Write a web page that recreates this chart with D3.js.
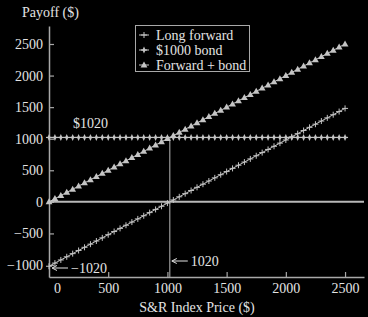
<!DOCTYPE html>
<html>
<head>
<meta charset="utf-8">
<script src="https://cdn.jsdelivr.net/npm/d3@7"></script>
<style>
  body { margin: 0; background: #000; }
  text { font-family: "Liberation Serif", "DejaVu Serif", serif; }
</style>
</head>
<body>
<div id="chart"></div>
<script>
// data: payoff at expiration, index price every $50
const prices = d3.range(0, 2501, 50);
const forwardPrice = 1020;
const bondPayoff = 1020;
const longForward = prices.map(p => p - forwardPrice);
const bond = prices.map(() => bondPayoff);
const forwardPlusBond = prices.map((p, i) => longForward[i] + bond[i]);
const xTicks = [0, 500, 1000, 1500, 2000, 2500];
const yTicks = [-1000, -500, 0, 500, 1000, 1500, 2000, 2500];
const seriesNames = ["Long forward", "$1000 bond", "Forward + bond"];

const width = 368, height = 317;
const fg = "#e4e4e4", mark = "#c4c4c4", axisCol = "#a8a8a8";

const svg = d3.select("#chart")
  .append("svg")
    .attr("width", width)
    .attr("height", height)
    .style("background", "#000");

// scales
const x = d3.scaleLinear().domain([0, 2660]).range([49, 364]);
const y = d3.scaleLinear().domain([-1190, 2785]).range([277, 26]);
const fmt = d3.format("d");

// x axis (ticks pointing up)
const xAxis = svg.append("g")
  .attr("transform", `translate(0, ${y.range()[0]})`)
  .call(d3.axisBottom(x).tickValues(xTicks).tickFormat(fmt).tickSizeInner(-5).tickSizeOuter(0).tickPadding(6));
xAxis.selectAll("text").filter(d => d === 0).attr("dx", 8);

// y axis (ticks pointing right)
const yAxis = svg.append("g")
  .attr("transform", `translate(${x.range()[0]}, 0)`)
  .call(d3.axisLeft(y).tickValues(yTicks).tickFormat(fmt).tickSizeInner(-5).tickSizeOuter(0).tickPadding(6));

[xAxis, yAxis].forEach(a => {
  a.select(".domain").attr("stroke", axisCol).attr("stroke-width", 1.5);
  a.selectAll(".tick line").attr("stroke", axisCol).attr("stroke-width", 1.2);
  a.selectAll("text").attr("fill", fg).style("font-size", "14px")
    .attr("font-family", "Liberation Serif, serif");
});
xAxis.selectAll(".tick line").filter(d => d === 0).remove();

// zero line
svg.append("line")
  .attr("x1", x(0)).attr("x2", x.range()[1])
  .attr("y1", y(0)).attr("y2", y(0))
  .attr("stroke", "#b8b8b8").attr("stroke-width", 2);

// vertical line at forward price
svg.append("line")
  .attr("x1", x(forwardPrice)).attr("x2", x(forwardPrice))
  .attr("y1", y(bondPayoff)).attr("y2", y.range()[0])
  .attr("stroke", "#9a9a9a").attr("stroke-width", 1.2);

const line = d3.line().x(d => x(d[0])).y(d => y(d[1]));

function drawSeries(vals, symbolFn) {
  const pts = prices.map((p, i) => [p, vals[i]]);
  svg.append("path")
    .datum(pts)
    .attr("d", line)
    .attr("fill", "none")
    .attr("stroke", mark)
    .attr("stroke-width", 1);
  const g = svg.append("g");
  pts.forEach(d => symbolFn(g, x(d[0]), y(d[1])));
}

function plusMark(g, cx, cy) {
  g.append("path")
    .attr("d", `M${cx - 3},${cy}H${cx + 3}M${cx},${cy - 3}V${cy + 3}`)
    .attr("stroke", mark).attr("stroke-width", 1);
}
function starMark(g, cx, cy) {
  g.append("path")
    .attr("d", `M${cx},${cy - 3.5}L${cx + 1.6},${cy}L${cx},${cy + 3.5}L${cx - 1.6},${cy}Z`)
    .attr("fill", mark);
  g.append("path")
    .attr("d", `M${cx - 3},${cy}H${cx + 3}`)
    .attr("stroke", mark).attr("stroke-width", 1.2);
}
function triMark(g, cx, cy) {
  g.append("path")
    .attr("d", `M${cx},${cy - 3.6}L${cx + 3.4},${cy + 2.4}L${cx - 3.4},${cy + 2.4}Z`)
    .attr("fill", mark);
}

drawSeries(bond, starMark);
drawSeries(longForward, plusMark);
drawSeries(forwardPlusBond, triMark);

// annotations
svg.append("text").attr("x", 73).attr("y", 128).text("$1020")
  .attr("fill", fg).style("font-size", "14px");

function arrowLabel(x0, yv, label) {
  svg.append("line")
    .attr("x1", x0 + 3).attr("x2", x0 + 18)
    .attr("y1", yv).attr("y2", yv)
    .attr("stroke", fg).attr("stroke-width", 1);
  svg.append("path")
    .attr("d", `M${x0 + 7},${yv - 2.5}L${x0 + 2},${yv}L${x0 + 7},${yv + 2.5}`)
    .attr("fill", "none").attr("stroke", fg).attr("stroke-width", 1);
  svg.append("text").attr("x", x0 + 21).attr("y", yv + 4.5).text(label)
    .attr("fill", fg).style("font-size", "14px");
}
arrowLabel(x(forwardPrice), 261, "1020");
arrowLabel(x(0) + 1, 268, "\u22121020");

// axis titles
svg.append("text").attr("x", 22).attr("y", 17).text("Payoff ($)")
  .attr("fill", fg).style("font-size", "14px");
svg.append("text").attr("x", 197).attr("y", 312).attr("text-anchor", "middle")
  .text("S&R Index Price ($)")
  .attr("fill", fg).style("font-size", "14px");

// legend
const legend = svg.append("g");
legend.append("rect")
  .attr("x", 135.5).attr("y", 25.5).attr("width", 114).attr("height", 46)
  .attr("fill", "#000").attr("stroke", axisCol).attr("stroke-width", 1);
const legendSyms = [plusMark, starMark, triMark];
seriesNames.forEach((name, i) => {
  const ly = 35 + i * 15;
  legend.append("line")
    .attr("x1", 139).attr("x2", 149).attr("y1", ly).attr("y2", ly)
    .attr("stroke", mark).attr("stroke-width", 1);
  legendSyms[i](legend, 144, ly);
  legend.append("text").attr("x", 156).attr("y", ly + 4.5).text(name)
    .attr("fill", fg).style("font-size", "14px");
});
</script>
</body>
</html>
